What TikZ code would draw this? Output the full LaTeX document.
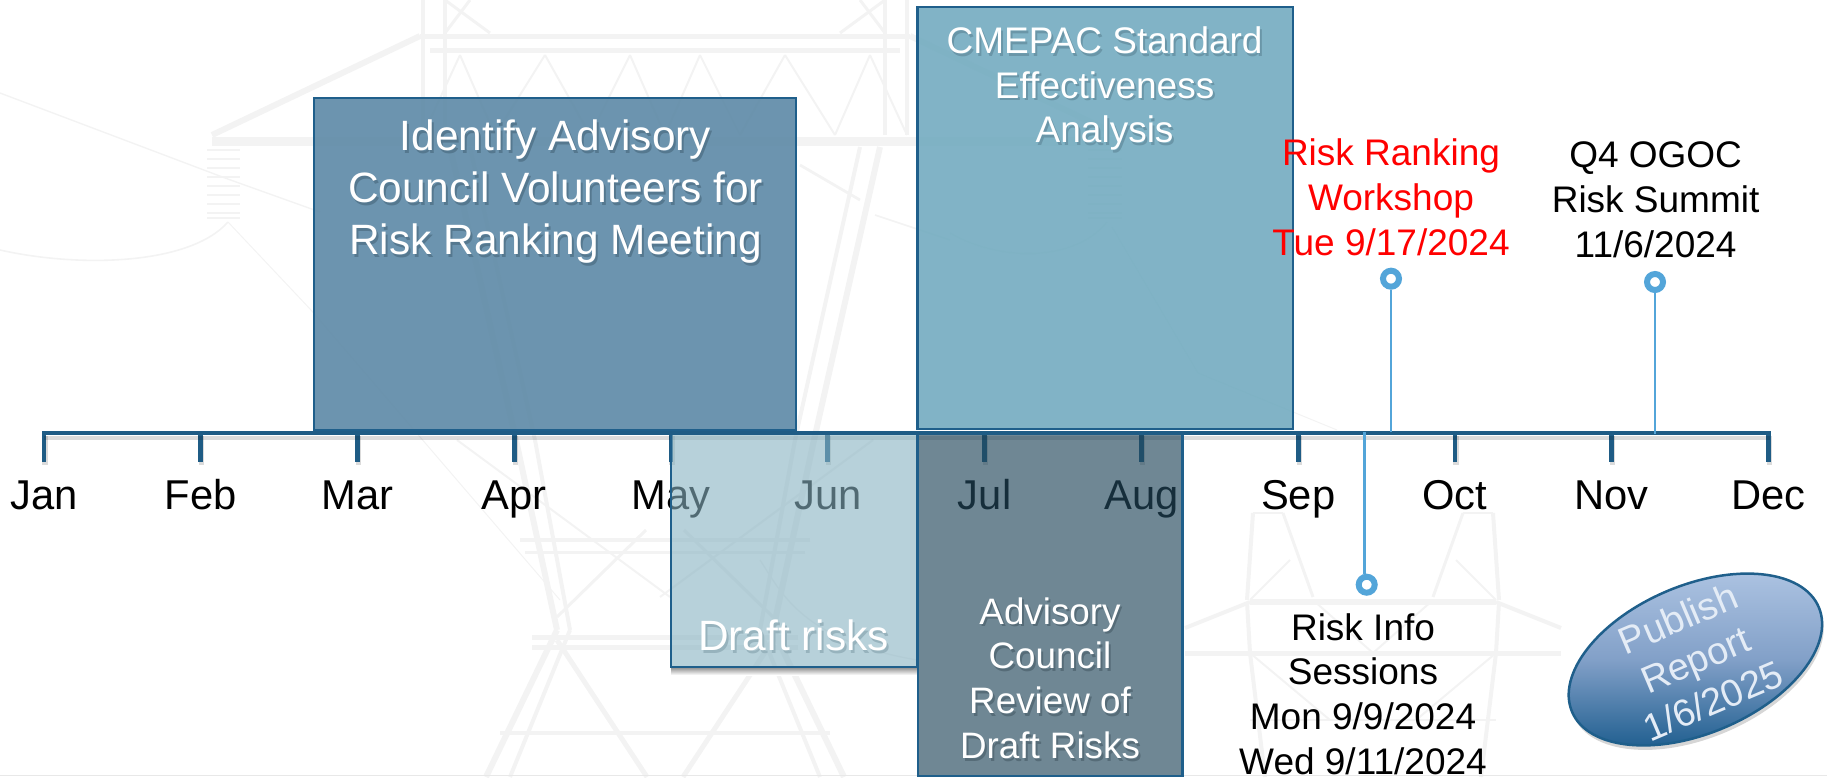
\documentclass[tikz,border=0pt]{standalone}
\usepackage{fontspec}
\setmainfont{Liberation Sans}
\usetikzlibrary{shapes.geometric}
\definecolor{wmc}{HTML}{F3F3F3}
\definecolor{axisc}{HTML}{1F5C85}
\definecolor{edgec}{HTML}{1F5F8B}
\definecolor{leadc}{HTML}{53A5D9}
\definecolor{volsh}{HTML}{55788F}
\definecolor{cmesh}{HTML}{6A96A8}
\definecolor{drsh}{HTML}{97B3BD}
\definecolor{revsh}{HTML}{566C78}
\definecolor{volf}{HTML}{608BA8}
\definecolor{cmef}{HTML}{76ADC1}
\definecolor{drf}{HTML}{87B2C1}
\definecolor{revf}{HTML}{22475B}
\definecolor{pubt}{HTML}{B0C6E4}
\definecolor{pubm}{HTML}{82A0C8}
\definecolor{pubb}{HTML}{16588A}
\definecolor{pubx}{HTML}{E4ECF6}
\newcommand{\shtx}[2]{\leavevmode\rlap{\kern1pt\raisebox{-1.4pt}{\textcolor{#1}{#2}}}#2}
\tikzset{
  wm/.style={draw=wmc},
  box/.style={draw=edgec,line width=1.25pt,inner sep=0pt,outer sep=0pt},
  month/.style={anchor=base,inner sep=0pt,text=black,font=\fontsize{20.85}{25}\selectfont},
  call/.style={align=center,inner sep=0pt,font=\fontsize{18.5}{22.4}\selectfont},
  ring/.style={circle,draw=leadc,fill=white,line width=3pt,inner sep=0pt,minimum size=8pt},
  lead/.style={draw=leadc,line width=1.4pt},
  boxtext/.style={align=center,inner sep=0pt,text=white},
  pubshape/.style={ellipse,rotate=23,minimum width=134pt,minimum height=74pt,inner sep=0pt},
}
\begin{document}
\begin{tikzpicture}[x=0.5pt,y=-0.5pt]
\useasboundingbox (0,0) rectangle (1827,777);
% ---------- watermark ----------
\foreach \a/\b/\c/\d/\w in {
  212/135/420/36/3, 420/36/665/36/2.5, 430/50/665/50/2.5, 212/141/665/141/4.5,
  423/0/423/135/2, 445/0/445/135/2, 470/0/445/33/1.5, 445/0/490/33/1.5,
  423/135/460/55/1, 460/55/495/135/1, 495/135/545/55/1, 545/55/590/135/1, 590/135/630/55/1, 630/55/665/135/1,
  450/147/516/440/3, 516/440/557/630/3, 557/630/486/777/3,
  470/147/535/440/2, 535/440/570/630/2, 570/630/510/777/2,
  520/540/665/540/2, 525/552/665/552/1.5, 532/637/665/637/2.5, 532/647/665/647/2.5, 500/733/665/733/2,
  557/617/646/530/1.5, 457/440/670/597/1, 557/640/647/777/2.5}
{
  \draw[wm,line width=\w pt] (\a,\b) -- (\c,\d);
  \draw[wm,line width=\w pt] ({1330-\a},\b) -- ({1330-\c},\d);
}
\foreach \a/\b/\c/\d/\w in {
  1185/628/1250/602/2, 1250/602/1373/602/3, 1185/653/1373/653/2.5,
  1253/513/1247/600/2, 1247/602/1250/653/2, 1250/653/1265/777/2,
  1283/513/1313/597/1.5, 1253/513/1283/513/1, 1250/600/1290/560/1, 1250/653/1330/720/1, 1313/600/1373/653/1, 1250/720/1373/720/1}
{
  \draw[wm,line width=\w pt] (\a,\b) -- (\c,\d);
  \draw[wm,line width=\w pt] ({2746-\a},\b) -- ({2746-\c},\d);
}
\foreach \y in {150,159,168,177,186,195,204,213,218}{
  \draw[wm,line width=1.2pt] (207,\y) -- (240,\y);
  \draw[wm,line width=1.2pt] (1088,\y) -- (1122,\y);
}
\draw[wm,line width=.7pt] (0,93) -- (225,178) -- (320,212);
\draw[wm,line width=.8pt] (0,250) .. controls (80,268) and (190,265) .. (228,222);
\draw[wm,line width=.5pt] (228,222) -- (311,310) -- (560,600);
\draw[wm,line width=1.4pt] (800,165) -- (860,200);
\draw[wm,line width=.8pt] (875,215) -- (950,240);
\draw[wm,line width=.7pt] (950,233) .. controls (1000,262) and (1075,262) .. (1107,222);
\draw[wm,line width=.5pt] (1112,227) -- (1198,373) -- (1337,430);
\draw[wm,line width=.6pt] (917,660) .. controls (800,640) and (780,590) .. (760,560);
\draw[draw=black!9,line width=.9pt] (0,775.5) -- (1827,775.5);
% ---------- axis ----------
\foreach \m/\i in {Jan/0,Feb/1,Mar/2,Apr/3,May/4,Jun/5,Jul/6,Aug/7,Sep/8,Oct/9,Nov/10,Dec/11}{
  \pgfmathsetmacro{\tx}{44+156.77*\i}
  \coordinate (t\i) at (\tx,433);
  \coordinate (b\i) at (\tx,462);
  \draw[black,opacity=.14,line width=2.6pt] (\tx+1,436) -- (\tx+1,465);
  \draw[axisc,line width=2.4pt] (t\i) -- (b\i);
  \node[month] (m\i) at (\tx,509) {\m};
}
\draw[black,opacity=.14,line width=2.4pt] (44,438) -- (1770,438);
% ---------- event boxes ----------
\shade[top color=black!40,bottom color=white] (671,668) rectangle (917,675);
\node[box,fill=volf,fill opacity=.92,minimum width=241pt,minimum height=166pt] (volbox) at (555,264) {};
\node[box,fill=cmef,fill opacity=.92,minimum width=187.75pt,minimum height=211pt] (cmebox) at (1105.25,218) {};
\node[box,fill=drf,fill opacity=.6,minimum width=123pt,minimum height=116.5pt] (draftbox) at (794,550.5) {};
\node[box,fill=revf,fill opacity=.65,minimum width=132.25pt,minimum height=171pt] (revbox) at (1050.25,605) {};
\draw[axisc,line width=2.25pt,line cap=rect] (t0) -- (t11);
\node[boxtext,font=\fontsize{21.2}{26}\selectfont] (voltext) at (555.5,193) {\shtx{volsh}{Identify Advisory}\\\shtx{volsh}{Council Volunteers for}\\\shtx{volsh}{Risk Ranking Meeting}};
\node[boxtext,font=\fontsize{18.5}{22.4}\selectfont] (cmetext) at (1104.6,90) {\shtx{cmesh}{CMEPAC Standard}\\\shtx{cmesh}{Effectiveness}\\\shtx{cmesh}{Analysis}};
\node[boxtext,font=\fontsize{21.2}{26}\selectfont] (drafttext) at (793.5,637) {\shtx{drsh}{Draft risks}};
\node[boxtext,font=\fontsize{18.4}{22.4}\selectfont] (revtext) at (1050,679.5) {\shtx{revsh}{Advisory}\\\shtx{revsh}{Council}\\\shtx{revsh}{Review of}\\\shtx{revsh}{Draft Risks}};
% ---------- callouts ----------
\coordinate (a1) at (1391,432);
\coordinate (a2) at (1655,434);
\coordinate (a3) at (1364.3,432);
\node[ring] (r1) at (1391,278.7) {};
\node[ring] (r2) at (1655,282) {};
\node[ring] (r3) at (1366.7,584.7) {};
\draw[lead] (a1) -- (r1);
\draw[lead] (a2) -- (r2);
\draw[lead] (a3) -- (a3 |- r3.north);
\node[call,text=red] (rtext) at (1391,197.5) {Risk Ranking\\Workshop\\Tue 9/17/2024};
\node[call,text=black] (qtext) at (1655.6,199.5) {Q4 OGOC\\Risk Summit\\11/6/2024};
\node[call,text=black] (itext) at (1363,694) {Risk Info\\Sessions\\Mon 9/9/2024\\Wed 9/11/2024};
% ---------- publish ellipse ----------
\node[pubshape,fill=black,opacity=.16] (pubsh) at (1697,664) {};
\node[pubshape,draw=edgec,line width=1.25pt,top color=pubt,bottom color=pubb,middle color=pubm] (pub) at (1695.4,659.5) {};
\node[rotate=23,align=center,inner sep=0pt,text=pubx,font=\fontsize{19}{22.4}\selectfont] (pubtext) at (pub.center) {Publish\\Report\\1/6/2025};
\end{tikzpicture}
\end{document}
